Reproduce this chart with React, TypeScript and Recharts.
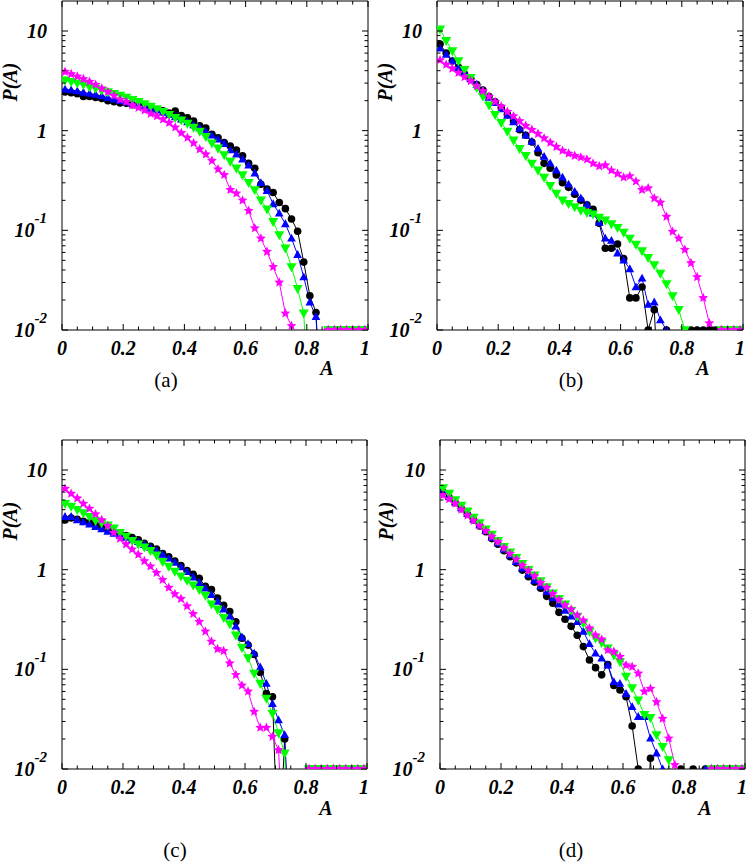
import React from 'react';
import { LineChart, Line, XAxis, YAxis } from 'recharts';

// bin centres of A
const A_VALUES = [
  0.01, 0.03, 0.05, 0.07, 0.09, 0.11, 0.13, 0.15, 0.17, 0.19,
  0.21, 0.23, 0.25, 0.27, 0.29, 0.31, 0.33, 0.35, 0.37, 0.39,
  0.41, 0.43, 0.45, 0.47, 0.49, 0.51, 0.53, 0.55, 0.57, 0.59,
  0.61, 0.63, 0.65, 0.67, 0.69, 0.71, 0.73, 0.75, 0.77, 0.79,
  0.81, 0.83, 0.85, 0.87, 0.89, 0.91, 0.93, 0.95, 0.97, 0.99,
];

// panel (a)
const aBlack = [2.45, 2.4, 2.35, 2.2, 2.2, 2.15, 2.1, 2.0, 1.95, 1.9, 1.88, 1.82, 1.78, 1.72, 1.68, 1.62, 1.58, 1.5, 1.57, 1.42, 1.35, 1.25, 1.12, 1.06, 0.92, 0.85, 0.76, 0.7, 0.64, 0.56, 0.47, 0.42, 0.29, 0.26, 0.24, 0.19, 0.165, 0.13, 0.098, 0.048, 0.022, 0.015, 0.001, 0.01, 0.01, 0.01, 0.01, 0.01, 0.01, 0.01];
const aBlue = [2.6, 2.55, 2.5, 2.42, 2.36, 2.3, 2.22, 2.14, 2.06, 2.0, 1.94, 1.88, 1.82, 1.75, 1.68, 1.6, 1.52, 1.44, 1.37, 1.3, 1.22, 1.14, 1.06, 0.98, 0.9, 0.82, 0.74, 0.64, 0.58, 0.515, 0.45, 0.373, 0.3, 0.25, 0.184, 0.148, 0.116, 0.083, 0.057, 0.034, 0.019, 0.0136, 0.001, 0.01, 0.01, 0.01, 0.01, 0.01, 0.01, 0.01];
const aGreen = [3.2, 3.1, 3.0, 2.9, 2.75, 2.65, 2.55, 2.45, 2.35, 2.25, 2.15, 2.05, 1.95, 1.85, 1.75, 1.65, 1.55, 1.45, 1.35, 1.27, 1.18, 1.08, 0.98, 0.87, 0.75, 0.665, 0.57, 0.49, 0.42, 0.36, 0.3, 0.254, 0.2, 0.163, 0.122, 0.09, 0.066, 0.043, 0.026, 0.0147, 0.001, 0.001, 0.001, 0.01, 0.01, 0.01, 0.01, 0.01, 0.01, 0.01];
const aMagenta = [3.9, 3.7, 3.5, 3.3, 3.1, 2.9, 2.65, 2.45, 2.25, 2.05, 1.95, 1.8, 1.7, 1.6, 1.48, 1.4, 1.3, 1.2, 1.08, 0.95, 0.85, 0.75, 0.65, 0.58, 0.5, 0.41, 0.36, 0.255, 0.235, 0.2, 0.157, 0.105, 0.083, 0.061, 0.043, 0.03, 0.0147, 0.011, 0.001, 0.001, 0.001, 0.001, 0.001, 0.01, 0.01, 0.01, 0.01, 0.01, 0.01, 0.01];

// panel (b)
const bBlack = [7.4, 6.0, 5.0, 4.3, 3.7, 3.35, 2.9, 2.55, 2.2, 1.95, 1.7, 1.45, 1.25, 1.02, 0.9, 0.77, 0.6, 0.47, 0.42, 0.36, 0.3, 0.27, 0.23, 0.2, 0.18, 0.163, 0.118, 0.066, 0.066, 0.073, 0.052, 0.021, 0.021, 0.027, 0.01, 0.016, 0.001, 0.01, 0.001, 0.001, 0.001, 0.01, 0.01, 0.01, 0.01, 0.01, 0.01, 0.01, 0.01, 0.01];
const bBlue = [6.7, 5.8, 5.0, 4.3, 3.8, 3.3, 2.9, 2.5, 2.15, 1.9, 1.65, 1.42, 1.22, 1.05, 0.9, 0.78, 0.66, 0.55, 0.47, 0.4, 0.34, 0.29, 0.245, 0.21, 0.18, 0.148, 0.12, 0.083, 0.079, 0.059, 0.05, 0.041, 0.027, 0.033, 0.018, 0.019, 0.0126, 0.01, 0.001, 0.001, 0.001, 0.001, 0.001, 0.001, 0.001, 0.001, 0.01, 0.01, 0.01, 0.01];
const bGreen = [10.4, 8.0, 6.3, 5.0, 4.1, 3.4, 2.7, 2.2, 1.8, 1.45, 1.2, 0.98, 0.8, 0.66, 0.56, 0.47, 0.4, 0.34, 0.28, 0.235, 0.2, 0.185, 0.172, 0.158, 0.15, 0.145, 0.135, 0.126, 0.116, 0.106, 0.095, 0.083, 0.072, 0.062, 0.053, 0.045, 0.037, 0.029, 0.022, 0.016, 0.01, 0.001, 0.001, 0.001, 0.001, 0.001, 0.01, 0.01, 0.01, 0.01];
const bMagenta = [5.1, 4.6, 4.2, 3.8, 3.45, 3.15, 2.8, 2.5, 2.2, 1.95, 1.75, 1.55, 1.4, 1.25, 1.12, 1.02, 0.93, 0.84, 0.76, 0.69, 0.63, 0.59, 0.56, 0.54, 0.515, 0.47, 0.44, 0.45, 0.4, 0.37, 0.34, 0.35, 0.31, 0.255, 0.265, 0.21, 0.19, 0.137, 0.097, 0.083, 0.064, 0.047, 0.034, 0.021, 0.0117, 0.001, 0.01, 0.01, 0.01, 0.01];

// panel (c)
const cBlack = [3.15, 3.3, 3.2, 3.05, 2.95, 2.8, 2.65, 2.5, 2.4, 2.3, 2.2, 2.1, 1.99, 1.84, 1.72, 1.61, 1.45, 1.35, 1.22, 1.1, 0.98, 0.9, 0.82, 0.68, 0.63, 0.52, 0.44, 0.38, 0.3, 0.205, 0.175, 0.141, 0.093, 0.057, 0.053, 0.001, 0.02, 0.001, 0.001, 0.001, 0.01, 0.01, 0.01, 0.01, 0.01, 0.01, 0.01, 0.01, 0.01, 0.01];
const cBlue = [3.4, 3.4, 3.15, 3.0, 2.85, 2.7, 2.55, 2.42, 2.3, 2.2, 2.1, 2.0, 1.9, 1.78, 1.66, 1.55, 1.42, 1.3, 1.18, 1.06, 0.95, 0.84, 0.74, 0.65, 0.56, 0.48, 0.4, 0.34, 0.27, 0.21, 0.18, 0.145, 0.105, 0.072, 0.045, 0.031, 0.022, 0.001, 0.001, 0.001, 0.01, 0.01, 0.01, 0.01, 0.01, 0.01, 0.01, 0.01, 0.01, 0.01];
const cGreen = [4.6, 4.3, 4.0, 3.7, 3.4, 3.1, 2.95, 2.8, 2.6, 2.35, 2.15, 1.95, 1.8, 1.68, 1.55, 1.4, 1.2, 1.08, 0.96, 0.86, 0.78, 0.7, 0.63, 0.55, 0.45, 0.4, 0.33, 0.285, 0.22, 0.165, 0.13, 0.091, 0.072, 0.051, 0.036, 0.023, 0.0144, 0.001, 0.001, 0.001, 0.01, 0.01, 0.01, 0.01, 0.01, 0.01, 0.01, 0.01, 0.01, 0.01];
const cMagenta = [6.5, 5.8, 5.2, 4.6, 4.1, 3.6, 3.15, 2.75, 2.35, 2.05, 1.8, 1.6, 1.42, 1.22, 1.08, 0.93, 0.79, 0.66, 0.57, 0.51, 0.43, 0.36, 0.3, 0.24, 0.19, 0.16, 0.153, 0.115, 0.088, 0.069, 0.06, 0.0376, 0.026, 0.026, 0.0211, 0.0155, 0.001, 0.001, 0.001, 0.001, 0.01, 0.01, 0.01, 0.01, 0.01, 0.01, 0.01, 0.01, 0.01, 0.01];

// panel (d)
const dBlack = [6.0, 5.3, 4.7, 4.1, 3.6, 3.15, 2.75, 2.4, 2.05, 1.8, 1.55, 1.35, 1.17, 0.99, 0.85, 0.75, 0.65, 0.54, 0.46, 0.373, 0.318, 0.27, 0.22, 0.169, 0.124, 0.104, 0.088, 0.112, 0.069, 0.062, 0.053, 0.027, 0.01, 0.001, 0.0128, 0.001, 0.001, 0.001, 0.001, 0.01, 0.001, 0.01, 0.001, 0.01, 0.01, 0.01, 0.01, 0.01, 0.01, 0.01];
const dBlue = [6.2, 5.4, 4.75, 4.15, 3.65, 3.2, 2.8, 2.45, 2.1, 1.85, 1.6, 1.4, 1.2, 1.03, 0.9, 0.78, 0.68, 0.6, 0.52, 0.45, 0.39, 0.34, 0.3, 0.24, 0.18, 0.145, 0.129, 0.11, 0.075, 0.072, 0.057, 0.042, 0.0335, 0.0335, 0.0203, 0.0144, 0.01, 0.001, 0.001, 0.001, 0.001, 0.001, 0.001, 0.01, 0.01, 0.01, 0.01, 0.01, 0.01, 0.01];
const dGreen = [6.6, 5.8, 5.0, 4.4, 3.85, 3.35, 2.95, 2.55, 2.25, 1.95, 1.7, 1.5, 1.32, 1.15, 1.0, 0.88, 0.77, 0.67, 0.58, 0.51, 0.45, 0.39, 0.34, 0.29, 0.24, 0.205, 0.185, 0.163, 0.139, 0.119, 0.085, 0.065, 0.049, 0.035, 0.0327, 0.022, 0.0167, 0.0123, 0.001, 0.001, 0.001, 0.001, 0.001, 0.001, 0.01, 0.01, 0.01, 0.01, 0.01, 0.01];
const dMagenta = [5.6, 5.1, 4.6, 4.0, 3.5, 3.1, 2.75, 2.45, 2.15, 1.9, 1.65, 1.45, 1.27, 1.1, 0.98, 0.86, 0.74, 0.66, 0.57, 0.5, 0.44, 0.4, 0.35, 0.31, 0.258, 0.22, 0.2, 0.156, 0.15, 0.134, 0.11, 0.106, 0.091, 0.06, 0.064, 0.047, 0.032, 0.0203, 0.011, 0.001, 0.001, 0.001, 0.001, 0.001, 0.01, 0.01, 0.01, 0.01, 0.01, 0.01];

// axes
const X_TICKS = [0, 0.05, 0.1, 0.15, 0.2, 0.25, 0.3, 0.35, 0.4, 0.45, 0.5, 0.55, 0.6, 0.65, 0.7, 0.75, 0.8, 0.85, 0.9, 0.95, 1];
const X_MAJOR = [0, 0.2, 0.4, 0.6, 0.8, 1];
const X_LABELS = ['0', '0.2', '0.4', '0.6', '0.8', '1'];
const Y_TICKS = [
  0.01, 0.02, 0.03, 0.04, 0.05, 0.06, 0.07, 0.08, 0.09,
  0.1, 0.2, 0.3, 0.4, 0.5, 0.6, 0.7, 0.8, 0.9,
  1, 2, 3, 4, 5, 6, 7, 8, 9, 10,
];
const Y_MAJOR = [0.01, 0.1, 1, 10];
const Y_BASE = ['10', '10', '1', '10'];
const Y_EXP = ['-2', '-1', '', ''];
const Y_DOMAIN = [0.01, 20];

const PANELS = [
  { id: 'a', series: [aBlack, aBlue, aGreen, aMagenta] },
  { id: 'b', series: [bBlack, bBlue, bGreen, bMagenta] },
  { id: 'c', series: [cBlack, cBlue, cGreen, cMagenta] },
  { id: 'd', series: [dBlack, dBlue, dGreen, dMagenta] },
];

// layout
const GEOM = {
  a: { left: 0, top: 0, w: 374, h: 400, leftW: 62, rightW: 6, topH: 1, bottomH: 70 },
  b: { left: 374, top: 0, w: 374, h: 400, leftW: 63, rightW: 5, topH: 1, bottomH: 70 },
  c: { left: 0, top: 430, w: 374, h: 433, leftW: 62, rightW: 7, topH: 10, bottomH: 94 },
  d: { left: 374, top: 430, w: 374, h: 433, leftW: 66, rightW: 3, topH: 10, bottomH: 94 },
};
const TEXT_POS = {
  a: { ax: 327, ay: 375, px: 10, py: 82, lx: 166, ly: 387 },
  b: { ax: 703, ay: 375, px: 385, py: 82, lx: 571, ly: 387 },
  c: { ax: 326, ay: 815, px: 10, py: 521, lx: 175, ly: 857 },
  d: { ax: 705, ay: 815, px: 386, py: 521, lx: 571, ly: 857 },
};

const SERIF = '"Liberation Serif", "DejaVu Serif", "Times New Roman", serif';
const tickFont: React.CSSProperties = { fontFamily: SERIF, fontWeight: 'bold', fontStyle: 'italic', fontSize: 20, fill: '#000' };
const MAJOR_LEN = 6;
const MINOR_LEN = 3.5;

const near = (a: number, b: number) => Math.abs(a - b) < 1e-9;
const xMajorIndex = (v: number) => X_MAJOR.findIndex((m) => near(m, v));
const yMajorIndex = (v: number) => Y_MAJOR.findIndex((m) => Math.abs(m - v) / m < 1e-6);

const BottomTick = (p: any) => {
  const i = xMajorIndex(p.payload.value);
  const len = i >= 0 ? MAJOR_LEN : MINOR_LEN;
  const last = i === X_MAJOR.length - 1;
  return (
    <g>
      <line x1={p.x} y1={p.y} x2={p.x} y2={p.y - len} stroke="#000" strokeWidth={1} />
      {i >= 0 && (
        <text x={last ? p.x + 2 : p.x} y={p.y + 25} textAnchor={last ? 'end' : 'middle'} style={tickFont}>
          {X_LABELS[i]}
        </text>
      )}
    </g>
  );
};
const TopTick = (p: any) => {
  const i = xMajorIndex(p.payload.value);
  const len = i >= 0 ? MAJOR_LEN : MINOR_LEN;
  return <line x1={p.x} y1={p.y} x2={p.x} y2={p.y + len} stroke="#000" strokeWidth={1} />;
};
const LeftTick = (p: any) => {
  const i = yMajorIndex(p.payload.value);
  const len = i >= 0 ? MAJOR_LEN : MINOR_LEN;
  return (
    <g>
      <line x1={p.x} y1={p.y} x2={p.x + len} y2={p.y} stroke="#000" strokeWidth={1} />
      {i >= 0 && (
        <text x={p.x - 15} y={p.y + 7} textAnchor="end" style={tickFont}>
          {Y_BASE[i]}
          {Y_EXP[i] && <tspan dy={-14} fontSize={15}>{Y_EXP[i]}</tspan>}
        </text>
      )}
    </g>
  );
};
const RightTick = (p: any) => {
  const i = yMajorIndex(p.payload.value);
  const len = i >= 0 ? MAJOR_LEN : MINOR_LEN;
  return <line x1={p.x} y1={p.y} x2={p.x - len} y2={p.y} stroke="#000" strokeWidth={1} />;
};

const valid = (p: any) => p && Number.isFinite(p.cx) && Number.isFinite(p.cy);
const keyOf = (p: any) => p.key ?? `d-${p.index}`;

const circleDot = (p: any) =>
  valid(p) ? <circle key={keyOf(p)} cx={p.cx} cy={p.cy} r={3.8} fill="#000" /> : <g key={keyOf(p)} />;
const triUpDot = (p: any) => {
  if (!valid(p)) return <g key={keyOf(p)} />;
  const s = 4.6;
  return (
    <polygon key={keyOf(p)} fill="#0000ff"
      points={`${p.cx},${p.cy - s} ${p.cx + s * 0.95},${p.cy + s * 0.7} ${p.cx - s * 0.95},${p.cy + s * 0.7}`} />
  );
};
const triDownDot = (p: any) => {
  if (!valid(p)) return <g key={keyOf(p)} />;
  const s = 5.3;
  return (
    <polygon key={keyOf(p)} fill="#00ff00"
      points={`${p.cx},${p.cy + s} ${p.cx + s * 0.95},${p.cy - s * 0.7} ${p.cx - s * 0.95},${p.cy - s * 0.7}`} />
  );
};
const starDot = (p: any) => {
  if (!valid(p)) return <g key={keyOf(p)} />;
  const R = 5.2;
  const r = 2.4;
  const pts: string[] = [];
  for (let k = 0; k < 10; k++) {
    const ang = -Math.PI / 2 + (k * Math.PI) / 5;
    const rad = k % 2 === 0 ? R : r;
    pts.push(`${(p.cx + rad * Math.cos(ang)).toFixed(2)},${(p.cy + rad * Math.sin(ang)).toFixed(2)}`);
  }
  return <polygon key={keyOf(p)} fill="#ff00ff" points={pts.join(' ')} />;
};

const SERIES_STYLE = [
  { key: 'black', color: '#000000', dot: circleDot },
  { key: 'blue', color: '#0000ff', dot: triUpDot },
  { key: 'green', color: '#00ff00', dot: triDownDot },
  { key: 'magenta', color: '#ff00ff', dot: starDot },
];

const axisLine = { stroke: '#000', strokeWidth: 1 };

function Panel({ id, series }: { id: string; series: number[][] }) {
  const g = (GEOM as any)[id];
  const rows = A_VALUES.map((a, i) => {
    const row: any = { A: a };
    SERIES_STYLE.forEach((s, k) => {
      row[s.key] = series[k][i];
    });
    return row;
  });
  return (
    <div style={{ position: 'absolute', left: g.left, top: g.top, width: g.w, height: g.h }}>
      <LineChart width={g.w} height={g.h} data={rows} margin={{ top: 0, right: 0, bottom: 0, left: 0 }}>
        <XAxis dataKey="A" type="number" domain={[0, 1]} ticks={X_TICKS} interval={0}
          tickSize={0} tickMargin={0} tickLine={false} tick={BottomTick} height={g.bottomH}
          axisLine={axisLine} allowDataOverflow />
        <XAxis xAxisId="top" orientation="top" dataKey="A" type="number" domain={[0, 1]} ticks={X_TICKS}
          interval={0} tickSize={0} tickMargin={0} tickLine={false} tick={TopTick} height={g.topH}
          axisLine={axisLine} allowDataOverflow />
        <YAxis type="number" scale="log" domain={Y_DOMAIN} allowDataOverflow ticks={Y_TICKS} interval={0}
          tickSize={0} tickMargin={0} tickLine={false} tick={LeftTick} width={g.leftW} axisLine={axisLine} />
        <YAxis yAxisId="right" orientation="right" type="number" scale="log" domain={Y_DOMAIN} allowDataOverflow
          ticks={Y_TICKS} interval={0} tickSize={0} tickMargin={0} tickLine={false} tick={RightTick}
          width={g.rightW} axisLine={axisLine} />
        {SERIES_STYLE.map((s) => (
          <Line key={s.key} type="linear" dataKey={s.key} stroke={s.color} strokeWidth={1}
            dot={s.dot} activeDot={false} isAnimationActive={false} />
        ))}
      </LineChart>
    </div>
  );
}

const labelFont: React.CSSProperties = { fontFamily: SERIF, fontWeight: 'bold', fontStyle: 'italic', fontSize: 20, fill: '#000' };
const captionFont: React.CSSProperties = { fontFamily: SERIF, fontSize: 21, fill: '#000' };

export default function App() {
  return (
    <div style={{ position: 'absolute', left: 0, top: 0, width: 748, height: 863, background: '#fff', overflow: 'hidden' }}>
      {PANELS.map((p) => (
        <Panel key={p.id} id={p.id} series={p.series} />
      ))}
      <svg width={748} height={863} style={{ position: 'absolute', left: 0, top: 0, pointerEvents: 'none' }}>
        {PANELS.map((p) => {
          const t = (TEXT_POS as any)[p.id];
          return (
            <g key={p.id}>
              <text x={t.ax} y={t.ay} textAnchor="middle" style={labelFont}>A</text>
              <text x={t.px} y={t.py} textAnchor="middle" dominantBaseline="central"
                transform={`rotate(-90 ${t.px} ${t.py})`} style={labelFont}>P(A)</text>
              <text x={t.lx} y={t.ly} textAnchor="middle" style={captionFont}>({p.id})</text>
            </g>
          );
        })}
      </svg>
    </div>
  );
}
